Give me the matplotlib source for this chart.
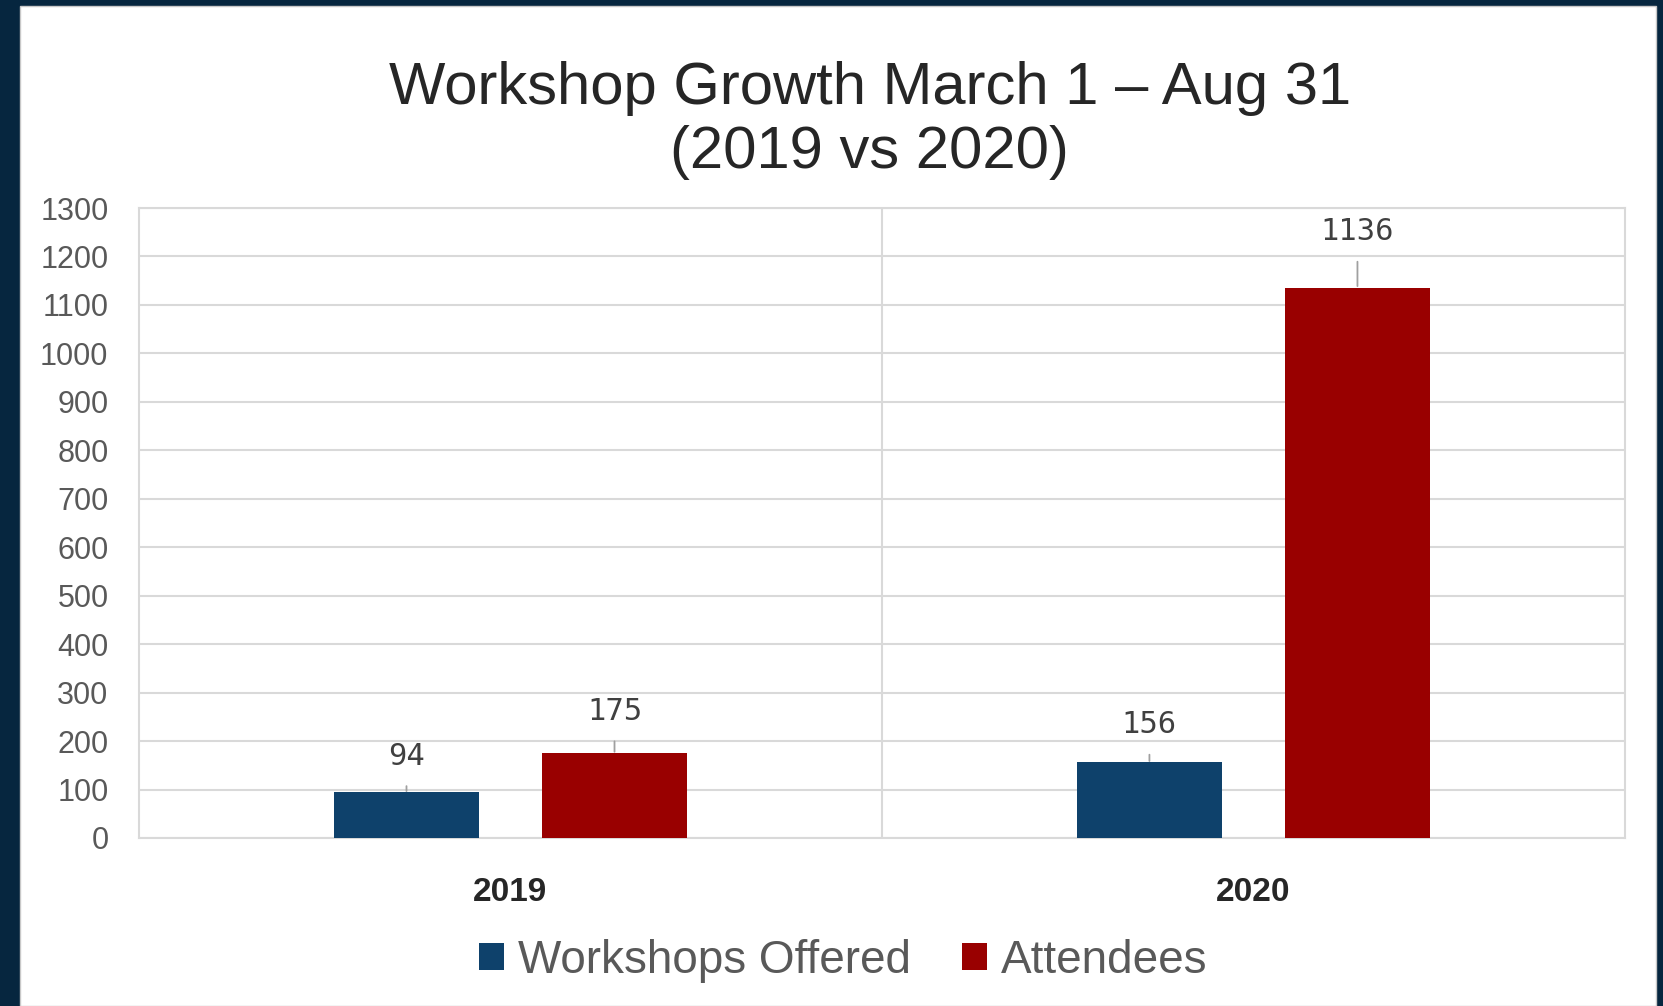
import matplotlib
matplotlib.use("Agg")
import matplotlib.pyplot as plt
from matplotlib.patches import Rectangle
import numpy as np

# dados
anos = ["2019", "2020"]
workshops = [94, 156]
participantes = [175, 1136]
series = ["Workshops Offered", "Attendees"]
yticks = list(range(0, 1400, 100))

# distancia dos rotulos ate a barra (pontos), como no grafico original
offs_workshops = [26, 27]
offs_participantes = [30, 40]

azul = "#0E416B"
vermelho = "#990000"
cinza_txt = "#595959"
cinza_grade = "#D9D9D9"

plt.rcParams["font.family"] = ["Liberation Sans", "DejaVu Sans"]

fig = plt.figure(figsize=(16.63, 10.06), dpi=100)
fig.patch.set_facecolor("#06263F")
# painel branco
fig.patches.append(Rectangle((20 / 1663, 0), 1636 / 1663, 1 - 6 / 1006,
                             transform=fig.transFigure, facecolor="white",
                             edgecolor="#C8C8C8", linewidth=1, zorder=-5))

ax = fig.add_axes([0.0836, 0.167, 0.8935, 0.6262])
ax.set_facecolor("white")

x = np.arange(len(anos))
largura = 0.195
desloc = 0.14
b1 = ax.bar(x - desloc, workshops, largura, color=azul, label=series[0], zorder=3)
b2 = ax.bar(x + desloc, participantes, largura, color=vermelho, label=series[1], zorder=3)

ax.set_xlim(-0.5, 1.5)
ax.set_ylim(0, 1300)
ax.set_yticks(yticks)
ax.set_yticklabels([str(t) for t in yticks], fontsize=22, color=cinza_txt)
ax.set_xticks(x)
ax.set_xticklabels(anos, fontsize=24, fontweight="bold", color="#262626")
ax.tick_params(axis="both", length=0)
ax.tick_params(axis="y", pad=22)
ax.tick_params(axis="x", pad=28)
ax.grid(axis="y", color=cinza_grade, linewidth=1.5, zorder=0)
ax.axvline(0.5, color=cinza_grade, linewidth=1.5, zorder=0)
for s in ax.spines.values():
    s.set_color(cinza_grade)
    s.set_linewidth(1.5)

# rotulos com linha guia
for barras, offs in ((b1, offs_workshops), (b2, offs_participantes)):
    for bar, off in zip(barras, offs):
        h = bar.get_height()
        cx = bar.get_x() + bar.get_width() / 2
        ax.annotate(str(int(h)), xy=(cx, h), xytext=(0, off), textcoords="offset points",
                    ha="center", va="center", fontsize=22, color="#404040",
                    family=["DejaVu Sans Mono"],
                    arrowprops=dict(arrowstyle="-", color="#A0A0A0", lw=1.3,
                                    shrinkA=9, shrinkB=1))

fig.text(0.523, 0.88, "Workshop Growth March 1 – Aug 31\n(2019 vs 2020)",
         ha="center", va="center", fontsize=43, color="#262626", linespacing=1.2)

fig.legend(handles=[b1, b2], labels=series, loc="center", bbox_to_anchor=(0.507, 0.045),
           ncol=2, frameon=False, fontsize=33, labelcolor=cinza_txt,
           handlelength=0.55, handleheight=0.55, handletextpad=0.3, columnspacing=1.1)

fig.savefig("out.png", dpi=100, facecolor=fig.get_facecolor())
